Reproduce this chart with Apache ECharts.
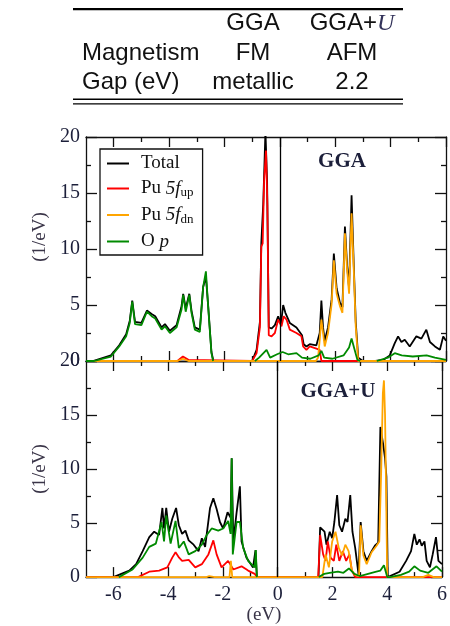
<!DOCTYPE html>
<html>
<head>
<meta charset="utf-8">
<title>PuO2 DOS</title>
<script src="https://cdn.jsdelivr.net/npm/echarts@6/dist/echarts.min.js"></script>
<style>
  html, body { margin: 0; padding: 0; background: #fff; }
  #chart { width: 450px; height: 626px; }
</style>
</head>
<body>
<div id="chart"></div>
<script>
// table above the plots
const tableHeader = ['', 'GGA', 'GGA+U']
const tableRows = [
  ['Magnetism', 'FM', 'AFM'],
  ['Gap (eV)', 'metallic', '2.2']
]

const seriesNames = ['Total', 'Pu 5f_up', 'Pu 5f_dn', 'O p']
const seriesColors = ['#000000', '#ff0000', '#ffa500', '#008a00']
const panelLabels = ['GGA', 'GGA+U']

const xMajorTicks = [-6, -4, -2, 0, 2, 4, 6]
const xMinorTicks = [-5, -3, -1, 1, 3, 5]

// GGA panel, [energy (eV), DOS (1/eV)]
const ggaTotal = [[-7, 0], [-6.75, 0], [-6.1, 0.5], [-5.8, 1.4], [-5.55, 2.4], [-5.42, 3.6], [-5.33, 5.4], [-5.23, 3.5], [-5.0, 3.4], [-4.8, 4.5], [-4.63, 4.2], [-4.5, 4.0], [-4.27, 3.0], [-4.15, 3.3], [-3.97, 2.7], [-3.73, 3.2], [-3.55, 4.9], [-3.49, 6.0], [-3.4, 4.7], [-3.27, 6.0], [-3.19, 4.5], [-3.07, 3.0], [-2.89, 2.8], [-2.77, 6.6], [-2.67, 7.5], [-2.59, 5.0], [-2.47, 0.8], [-2.4, 0], [-1.0, 0], [-0.84, 1.0], [-0.72, 3.5], [-0.67, 10.5], [-0.6, 14], [-0.52, 20.5], [-0.46, 16], [-0.4, 3.0], [-0.3, 2.9], [-0.18, 3.2], [-0.06, 4.0], [0.04, 3.3], [0.12, 5.0], [0.2, 4.3], [0.36, 3.4], [0.6, 3.0], [0.8, 2.3], [0.86, 1.5], [0.96, 1.3], [1.08, 1.5], [1.32, 1.4], [1.44, 2.5], [1.5, 5.4], [1.56, 3.0], [1.62, 1.8], [1.74, 3.0], [1.87, 5.5], [1.95, 9.6], [2.05, 6.5], [2.17, 5.2], [2.26, 4.8], [2.35, 12.0], [2.43, 8.5], [2.5, 6.5], [2.59, 14.8], [2.67, 8.5], [2.74, 3.5], [2.83, 0.3], [3.0, 0], [3.45, 0], [3.73, 0.1], [3.97, 0.5], [4.15, 1.6], [4.27, 2.2], [4.39, 1.7], [4.51, 1.9], [4.69, 1.3], [4.93, 2.2], [5.11, 2.0], [5.29, 2.8], [5.42, 1.7], [5.6, 1.3], [5.78, 1.0], [5.9, 2.2], [6, 1.8]]
const ggaUp = [[-7, 0], [-3.7, 0], [-3.5, 0.4], [-3.3, 0.1], [-1.0, 0], [-0.84, 0.7], [-0.72, 3.0], [-0.67, 10.2], [-0.62, 10.5], [-0.57, 16], [-0.5, 18.8], [-0.45, 14], [-0.4, 2.3], [-0.3, 2.2], [-0.18, 2.5], [-0.06, 3.7], [0.06, 3.1], [0.14, 4.0], [0.24, 3.7], [0.36, 2.8], [0.6, 2.5], [0.78, 2.2], [0.84, 1.3], [0.96, 1.0], [1.08, 1.3], [1.32, 1.1], [1.44, 1.0], [1.5, 0], [6, 0]]
const ggaDn = [[-7, 0], [-3.7, 0], [-3.5, 0.2], [-3.3, 0], [1.3, 0], [1.38, 0.3], [1.44, 1.9], [1.5, 3.7], [1.56, 2.5], [1.62, 1.3], [1.74, 2.5], [1.87, 5.1], [1.95, 9.0], [2.05, 6.0], [2.17, 4.9], [2.26, 4.3], [2.35, 11.4], [2.43, 8.1], [2.5, 6.0], [2.59, 13.2], [2.67, 8.1], [2.74, 3.1], [2.83, 0], [6, 0]]
const ggaOp = [[-7, 0], [-6.7, 0], [-6.1, 0.4], [-5.8, 1.3], [-5.55, 2.2], [-5.42, 3.4], [-5.33, 5.3], [-5.23, 3.3], [-5.0, 3.2], [-4.8, 4.4], [-4.63, 4.0], [-4.5, 3.8], [-4.27, 2.8], [-4.15, 3.1], [-3.97, 2.5], [-3.73, 3.0], [-3.55, 4.6], [-3.49, 5.9], [-3.4, 4.4], [-3.27, 5.9], [-3.19, 4.3], [-3.07, 2.8], [-2.89, 2.6], [-2.77, 6.6], [-2.67, 8.0], [-2.59, 4.9], [-2.47, 0.7], [-2.41, 0], [-2.0, null], [-0.9, 0], [-0.75, 0.3], [-0.48, 1.0], [-0.35, 0.3], [-0.1, 0.6], [0.1, 0.8], [0.3, 0.6], [0.6, 0.7], [0.8, 0.3], [1.1, 0.2], [1.4, 0.5], [1.5, 0.9], [1.6, 0.3], [1.9, 0.2], [2.3, 0.5], [2.5, 1.2], [2.59, 2.0], [2.7, 1.0], [2.8, 0.1], [2.9, 0], [3.2, null], [3.5, 0], [3.9, 0.3], [4.15, 0.7], [4.4, 0.5], [4.8, 0.4], [5.3, 0.5], [5.6, 0.3], [6.0, 0.1]]

// GGA+U panel
const uTotal = [[-7, 0], [-6.0, 0], [-5.42, 0.6], [-5.17, 1.2], [-4.93, 2.4], [-4.69, 3.7], [-4.51, 4.2], [-4.33, 3.9], [-4.21, 6.4], [-4.15, 4.5], [-4.07, 6.4], [-3.97, 4.2], [-3.85, 5.4], [-3.71, 6.4], [-3.61, 4.8], [-3.49, 4.0], [-3.37, 4.3], [-3.25, 3.4], [-3.07, 3.0], [-2.89, 2.4], [-2.77, 3.6], [-2.65, 2.8], [-2.47, 6.4], [-2.35, 7.3], [-2.23, 6.3], [-2.11, 5.1], [-1.99, 4.5], [-1.83, 6.0], [-1.72, 5.5], [-1.68, 11.0], [-1.62, 3.3], [-1.5, 6.0], [-1.38, 8.4], [-1.32, 3.3], [-1.14, 1.8], [-0.9, 0.9], [-0.81, 2.5], [-0.76, 0], [1.49, 0], [1.55, 4.6], [1.71, 4.2], [1.78, 3.0], [1.9, 4.2], [1.99, 3.6], [2.07, 5.1], [2.17, 7.6], [2.25, 4.8], [2.35, 4.2], [2.47, 5.4], [2.55, 5.1], [2.65, 7.6], [2.73, 4.2], [2.83, 2.7], [2.95, 0.3], [3.03, 5.1], [3.13, 2.4], [3.25, 1.5], [3.43, 2.4], [3.55, 2.9], [3.67, 3.2], [3.75, 13.9], [3.8, 14], [3.85, 12.3], [3.92, 11], [3.97, 9.3], [4.02, 0], [4.09, 0], [4.45, 0.5], [4.69, 1.5], [4.87, 2.4], [4.99, 4.0], [5.08, 3.0], [5.18, 3.5], [5.26, 2.9], [5.36, 3.3], [5.44, 1.5], [5.56, 0.9], [5.66, 2.1], [5.78, 3.7], [5.87, 1.5], [6.0, 1.2]]
const uUp = [[-7, 0], [-5.1, 0], [-4.69, 0.5], [-4.33, 0.6], [-4.03, 0.9], [-3.85, 1.8], [-3.73, 2.3], [-3.6, 1.8], [-3.49, 1.5], [-3.25, 1.6], [-3.01, 0.9], [-2.77, 1.2], [-2.53, 2.1], [-2.35, 3.4], [-2.23, 2.1], [-2.05, 0.9], [-1.81, 1.5], [-1.62, 0.7], [-1.32, 1.0], [-1.08, 0.6], [-0.84, 0.3], [-0.76, 0], [1.48, 0], [1.55, 3.9], [1.66, 2.1], [1.75, 1.5], [1.83, 3.3], [1.93, 1.8], [2.05, 1.5], [2.14, 3.0], [2.25, 1.5], [2.38, 2.4], [2.5, 1.5], [2.62, 2.1], [2.71, 0.6], [2.83, 0], [6, 0]]
const uDn = [[-7, 0], [-2.6, 0], [-2.5, 0.1], [-2.3, 0], [-1.76, 0], [-1.71, 1.5], [-1.66, 0], [1.63, 0], [1.75, 2.1], [1.87, 0.9], [1.99, 3.3], [2.11, 4.2], [2.23, 2.7], [2.35, 2.0], [2.47, 3.0], [2.59, 2.4], [2.71, 0.6], [2.83, 0.2], [2.97, 0.1], [3.03, 4.8], [3.13, 2.0], [3.25, 1.2], [3.43, 2.3], [3.61, 2.9], [3.71, 3.3], [3.78, 9.9], [3.84, 17], [3.88, 18.2], [3.92, 15], [3.95, 9.6], [4.0, 0], [5.3, 0], [5.5, 0.2], [5.7, 0], [6, 0]]
const uOp = [[-5.8, 0], [-5.3, 0.7], [-4.93, 1.8], [-4.69, 2.8], [-4.45, 3.1], [-4.24, 5.1], [-4.15, 3.3], [-4.07, 5.7], [-3.91, 3.1], [-3.73, 5.2], [-3.61, 2.7], [-3.43, 3.3], [-3.25, 2.1], [-3.01, 2.4], [-2.77, 3.0], [-2.59, 3.9], [-2.41, 4.5], [-2.17, 4.3], [-1.99, 4.5], [-1.81, 5.2], [-1.72, 4.0], [-1.68, 11], [-1.64, 2.1], [-1.5, 5.1], [-1.38, 5.1], [-1.26, 2.7], [-1.08, 1.5], [-0.84, 0.9], [-0.8, 2.5], [-0.76, 0], [0.3, null], [1.5, 0], [1.7, 0.3], [1.9, 0.4], [2.2, 0.5], [2.4, 0.4], [2.6, 0.8], [2.8, 0.3], [3.0, 0.1], [3.3, 0.3], [3.6, 0.5], [3.75, 0.6], [3.88, 1.1], [4.0, 0], [4.1, 0], [4.5, 0.2], [4.8, 0.5], [4.99, 1.0], [5.2, 0.6], [5.5, 0.4], [5.8, 1.0], [6.0, 0.5]]

const panelData = [
  [ggaTotal, ggaUp, ggaDn, ggaOp],
  [uTotal, uUp, uDn, uOp]
]

const serif = '"Liberation Serif", "Times New Roman", serif'
const sans = '"Liberation Sans", Arial, sans-serif'
const inkColor = '#1c1f3a'

const myChart = echarts.init(document.getElementById('chart'))

const grids = [
  { left: 86, top: 137, width: 360, height: 224 },
  { left: 86, top: 361, width: 360, height: 223 }
]

// 4 x axes per panel: major/minor ticks, bottom and top
function xAxesFor(g) {
  const list = []
  ;['bottom', 'top'].forEach(function(pos) {
    ;[true, false].forEach(function(major) {
      const showLabel = g === 1 && pos === 'bottom' && major
      list.push({
        type: 'value',
        gridIndex: g,
        position: pos,
        min: -7,
        max: 6,
        name: showLabel ? '(eV)' : '',
        nameLocation: 'middle',
        nameGap: 22,
        nameTextStyle: { fontFamily: serif, fontSize: 19, color: '#3a3548' },
        axisLine: { show: major, onZero: false, lineStyle: { color: '#111', width: 1.3 } },
        axisTick: {
          show: true,
          inside: true,
          length: major ? 10 : 5,
          customValues: major ? xMajorTicks : xMinorTicks,
          lineStyle: { color: '#111', width: 1.3 }
        },
        axisLabel: {
          show: showLabel,
          customValues: xMajorTicks,
          margin: 8,
          fontFamily: serif,
          fontSize: 20,
          color: inkColor
        },
        splitLine: { show: false }
      })
    })
  })
  return list
}

function yAxesFor(g) {
  return ['left', 'right'].map(function(pos) {
    return {
      type: 'value',
      gridIndex: g,
      position: pos,
      min: 0,
      max: 20,
      interval: 5,
      name: pos === 'left' ? '(1/eV)' : '',
      nameLocation: 'middle',
      nameGap: 36,
      nameTextStyle: {
        fontFamily: serif,
        fontSize: 19,
        color: '#3a3548',
        padding: g === 0 ? [0, 0, 0, 24] : 0
      },
      axisLine: { show: true, onZero: false, lineStyle: { color: '#111', width: 1.3 } },
      axisTick: { inside: true, length: 11, lineStyle: { color: '#111', width: 1.3 } },
      minorTick: { show: true, splitNumber: 2, length: 5, lineStyle: { color: '#111', width: 1.3 } },
      axisLabel: {
        show: pos === 'left',
        margin: 6,
        fontFamily: serif,
        fontSize: 20,
        color: inkColor
      },
      splitLine: { show: false },
      minorSplitLine: { show: false }
    }
  })
}

const series = []
panelData.forEach(function(curves, g) {
  curves.forEach(function(data, k) {
    const s = {
      name: seriesNames[k],
      type: 'line',
      xAxisIndex: g * 4,
      yAxisIndex: g * 2,
      data: data,
      symbol: 'none',
      showSymbol: false,
      color: seriesColors[k],
      lineStyle: { width: 1.8, color: seriesColors[k] },
      z: 2 + k
    }
    if (k === 0) {
      // Fermi level
      s.markLine = {
        silent: true,
        symbol: 'none',
        label: { show: false },
        lineStyle: { color: '#000', width: 1.3, type: 'solid' },
        data: [{ xAxis: 0 }]
      }
    }
    series.push(s)
  })
})

const legendText = {
  'Total': '{n|Total}',
  'Pu 5f_up': '{n|Pu }{i|5f}{s|up}',
  'Pu 5f_dn': '{n|Pu }{i|5f}{s|dn}',
  'O p': '{n|O }{i|p}'
}

// table graphics
const graphic = [
  { type: 'rect', shape: { x: 73, y: 8, width: 330, height: 2.2 }, style: { fill: '#000' } },
  { type: 'rect', shape: { x: 73, y: 98.6, width: 330, height: 1.3 }, style: { fill: '#000' } },
  { type: 'rect', shape: { x: 73, y: 103.3, width: 330, height: 1.3 }, style: { fill: '#000' } }
]
const colX = [82, 253, 352]
const rowY = [23.5, 53.5, 82.5]
const allRows = [tableHeader].concat(tableRows)
allRows.forEach(function(row, r) {
  row.forEach(function(cell, c) {
    if (!cell) return
    let text = cell
    if (cell === 'GGA+U') text = '{a|GGA+}{u|U}'
    graphic.push({
      type: 'text',
      style: {
        x: colX[c],
        y: rowY[r],
        text: text,
        font: '24px ' + sans,
        fill: '#111',
        align: c === 0 ? 'left' : 'center',
        verticalAlign: 'middle',
        rich: {
          a: { fontFamily: sans, fontSize: 24, fill: '#111' },
          u: { fontFamily: serif, fontSize: 24, fontStyle: 'italic', fill: '#33335a' }
        }
      }
    })
  })
})
graphic.push({
  type: 'text',
  style: { x: 342, y: 162, text: panelLabels[0], font: 'bold 21px ' + serif, fill: inkColor, align: 'center', verticalAlign: 'middle' }
})
graphic.push({
  type: 'text',
  style: { x: 338, y: 392, text: panelLabels[1], font: 'bold 21px ' + serif, fill: inkColor, align: 'center', verticalAlign: 'middle' }
})

const option = {
  animation: false,
  backgroundColor: '#fff',
  grid: grids,
  xAxis: xAxesFor(0).concat(xAxesFor(1)),
  yAxis: yAxesFor(0).concat(yAxesFor(1)),
  legend: {
    data: seriesNames,
    orient: 'vertical',
    left: 100,
    top: 149,
    padding: [5, 9, 4, 7],
    itemGap: 6,
    itemWidth: 22,
    itemHeight: 2,
    icon: 'rect',
    borderColor: '#111',
    borderWidth: 1.3,
    backgroundColor: '#fff',
    z: 10,
    selectedMode: false,
    formatter: function(name) {
      return legendText[name]
    },
    textStyle: {
      padding: [0, 0, 0, 7],
      rich: {
        n: { fontFamily: serif, fontSize: 19, lineHeight: 22, color: '#111' },
        i: { fontFamily: serif, fontSize: 19, lineHeight: 22, fontStyle: 'italic', color: '#111' },
        s: { fontFamily: serif, fontSize: 13, lineHeight: 13, verticalAlign: 'bottom', color: '#111' }
      }
    }
  },
  graphic: graphic,
  series: series
}

myChart.setOption(option)
</script>
</body>
</html>
